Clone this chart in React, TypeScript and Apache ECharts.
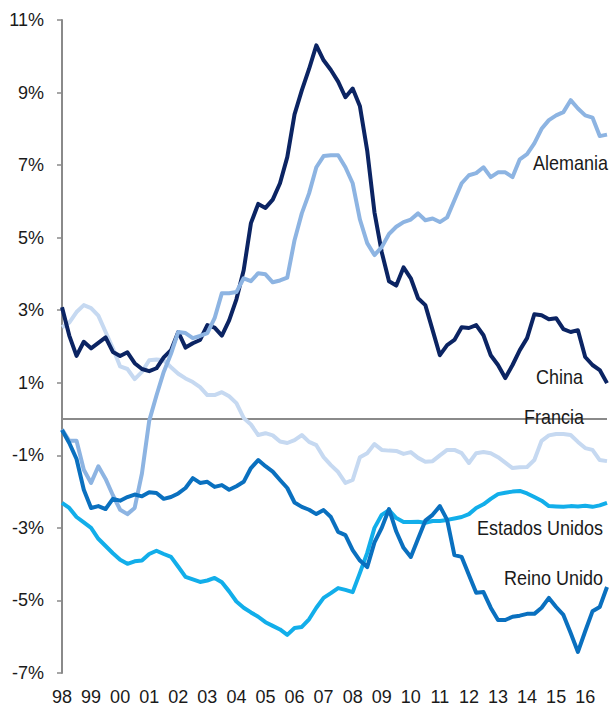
import React, { useEffect, useRef } from "react";
import * as echarts from "echarts";

const years = ["98","99","00","01","02","03","04","05","06","07","08","09","10","11","12","13","14","15","16"];
const quarters = ["T1","T2","T3","T4"];
const categories = years.flatMap((y) => quarters.map((q) => y + q));

const yTicks = { min: -7, max: 11, interval: 2 };

const china = [
  3.08, 2.3, 1.74, 2.13, 1.95, 2.1, 2.25, 1.85, 1.74, 1.84,
  1.54, 1.38, 1.32, 1.4, 1.7, 1.9, 2.4, 1.97, 2.09, 2.18,
  2.59, 2.52, 2.3, 2.72, 3.3, 4.1, 5.4, 5.93, 5.82, 6.05,
  6.5, 7.22, 8.4, 9.06, 9.65, 10.3, 9.89, 9.62, 9.3, 8.87,
  9.11, 8.62, 7.4, 5.7, 4.6, 3.8, 3.68, 4.18, 3.88, 3.33,
  3.14, 2.45, 1.76, 2.04, 2.18, 2.53, 2.51, 2.59, 2.31, 1.76,
  1.49, 1.13, 1.49, 1.9, 2.23, 2.89, 2.86, 2.75, 2.78, 2.48,
  2.4, 2.45, 1.71, 1.49, 1.35, 0.99,
];

const alemania = [
  -0.28, -0.6, -0.6, -1.4, -1.76, -1.3, -1.65, -2.1, -2.5, -2.62,
  -2.45, -1.5, -0.05, 0.65, 1.3, 1.8, 2.4, 2.37, 2.23, 2.29,
  2.37, 2.78, 3.47, 3.47, 3.5, 3.88, 3.8, 4.02, 3.99, 3.77,
  3.82, 3.9, 4.93, 5.67, 6.22, 6.94, 7.25, 7.27, 7.27, 6.94,
  6.5, 5.5, 4.85, 4.52, 4.74, 5.1, 5.3, 5.43, 5.5, 5.67,
  5.48, 5.53, 5.43, 5.56, 6.03, 6.5, 6.72, 6.78, 6.94, 6.67,
  6.8, 6.8, 6.67, 7.16, 7.3, 7.6, 8.0, 8.24, 8.37, 8.46,
  8.79, 8.56, 8.37, 8.31, 7.8, 7.84,
];

const francia = [
  2.53, 2.66, 2.95, 3.14, 3.06, 2.85, 2.4, 1.95, 1.45, 1.38,
  1.1, 1.3, 1.62, 1.64, 1.62, 1.43, 1.25, 1.12, 1.02, 0.88,
  0.66, 0.66, 0.74, 0.63, 0.44, 0.03, -0.15, -0.44, -0.39, -0.45,
  -0.62, -0.66, -0.58, -0.44, -0.63, -0.72, -1.05, -1.27, -1.46, -1.76,
  -1.68, -1.05, -0.94, -0.69, -0.85, -0.87, -0.88, -0.96, -0.91, -1.07,
  -1.18, -1.16, -1.0, -0.85, -0.85, -0.94, -1.21, -0.94, -0.91, -0.94,
  -1.05, -1.2, -1.35, -1.33, -1.32, -1.13, -0.6, -0.45, -0.41, -0.41,
  -0.44, -0.63, -0.8, -0.85, -1.13, -1.16,
];

const estadosUnidos = [
  -2.31, -2.45, -2.7, -2.85, -3.0, -3.3, -3.5, -3.7, -3.88, -3.99,
  -3.92, -3.9, -3.72, -3.63, -3.72, -3.8, -4.07, -4.35, -4.42, -4.49,
  -4.45, -4.38, -4.5, -4.75, -5.03, -5.2, -5.33, -5.45, -5.6, -5.7,
  -5.8, -5.95, -5.76, -5.73, -5.52, -5.2, -4.93, -4.8, -4.66, -4.71,
  -4.77, -4.24, -3.69, -3.0, -2.64, -2.51, -2.73, -2.84, -2.84, -2.83,
  -2.86, -2.81, -2.81, -2.78, -2.74, -2.7, -2.62, -2.45, -2.35, -2.2,
  -2.07, -2.03, -2.0, -1.98, -2.05, -2.15, -2.25, -2.4, -2.41, -2.42,
  -2.4, -2.41, -2.39, -2.42, -2.38, -2.31,
];

const reinoUnido = [
  -0.3, -0.66, -1.1, -1.95, -2.45, -2.4, -2.48, -2.2, -2.25, -2.15,
  -2.08, -2.13, -2.02, -2.04, -2.2, -2.15, -2.05, -1.9, -1.63, -1.76,
  -1.73, -1.87, -1.82, -1.95, -1.85, -1.73, -1.35, -1.13, -1.3, -1.45,
  -1.68, -1.9, -2.3, -2.42, -2.5, -2.62, -2.51, -2.7, -3.11, -3.2,
  -3.61, -3.9, -4.08, -3.4, -3.0, -2.48, -3.1, -3.55, -3.8, -3.3,
  -2.8, -2.64, -2.4, -2.78, -3.75, -3.8, -4.3, -4.79, -4.77, -5.2,
  -5.54, -5.54, -5.45, -5.42, -5.37, -5.37, -5.2, -4.93, -5.18, -5.4,
  -5.9, -6.42, -5.85, -5.3, -5.18, -4.63,
];

const seriesDefs = [
  { name: "Francia", data: francia, color: "#c6d9f1" },
  { name: "China", data: china, color: "#0b2463" },
  { name: "Alemania", data: alemania, color: "#8db4e2" },
  { name: "Estados Unidos", data: estadosUnidos, color: "#12aeea" },
  { name: "Reino Unido", data: reinoUnido, color: "#0a70bf" },
];

const labelDefs = [
  { text: "Alemania", x: 608, y: 163 },
  { text: "China", x: 583, y: 377 },
  { text: "Francia", x: 584, y: 417 },
  { text: "Estados Unidos", x: 603, y: 528 },
  { text: "Reino Unido", x: 603, y: 578 },
];

const FONT = "'Liberation Sans', Arial, sans-serif";
const TEXT_COLOR = "#1a1a1a";
const AXIS_GRAY = "#8a8a8a";

export default function App() {
  const ref = useRef<HTMLDivElement>(null);
  useEffect(() => {
    if (!ref.current) return;
    const chart = echarts.init(ref.current, null, { renderer: "svg" });
    chart.setOption({
      animation: false,
      backgroundColor: "#ffffff",
      grid: { left: 62, right: 4, top: 20, bottom: 35, containLabel: false },
      xAxis: {
        type: "category",
        data: categories,
        boundaryGap: false,
        axisLine: { show: false },
        axisTick: { show: false },
        splitLine: { show: false },
        axisLabel: {
          interval: 3,
          formatter: (v: string) => v.slice(0, 2),
          color: TEXT_COLOR,
          fontFamily: FONT,
          fontSize: 18,
          margin: 15,
        },
      },
      yAxis: {
        type: "value",
        min: yTicks.min,
        max: yTicks.max,
        interval: yTicks.interval,
        axisLine: { show: true, lineStyle: { color: AXIS_GRAY, width: 2 } },
        axisTick: { show: true, length: 5, lineStyle: { color: AXIS_GRAY, width: 1.5 } },
        splitLine: { show: false },
        axisLabel: {
          formatter: (v: number) => `${v}%`,
          color: TEXT_COLOR,
          fontFamily: FONT,
          fontSize: 18,
          margin: 18,
        },
      },
      series: seriesDefs.map((s, i) => ({
        type: "line",
        name: s.name,
        data: s.data,
        symbol: "none",
        lineStyle: { color: s.color, width: 4, join: "round" },
        itemStyle: { color: s.color },
        z: 3 + i,
        ...(i === 0
          ? {
              markLine: {
                silent: true,
                symbol: "none",
                label: { show: false },
                lineStyle: { color: AXIS_GRAY, width: 2, type: "solid" },
                data: [{ yAxis: 0 }],
                z: 1,
              },
            }
          : {}),
      })),
      graphic: labelDefs.map((l) => ({
        type: "text",
        x: l.x,
        y: l.y,
        z: 100,
        scaleY: 1.08,
        style: {
          text: l.text,
          align: "right",
          verticalAlign: "middle",
          fill: TEXT_COLOR,
          font: `18px ${FONT}`,
        },
      })),
    });
    return () => chart.dispose();
  }, []);
  return (
    <div
      ref={ref}
      style={{ position: "fixed", left: 0, top: 0, width: 611, height: 708, background: "#fff" }}
    />
  );
}
